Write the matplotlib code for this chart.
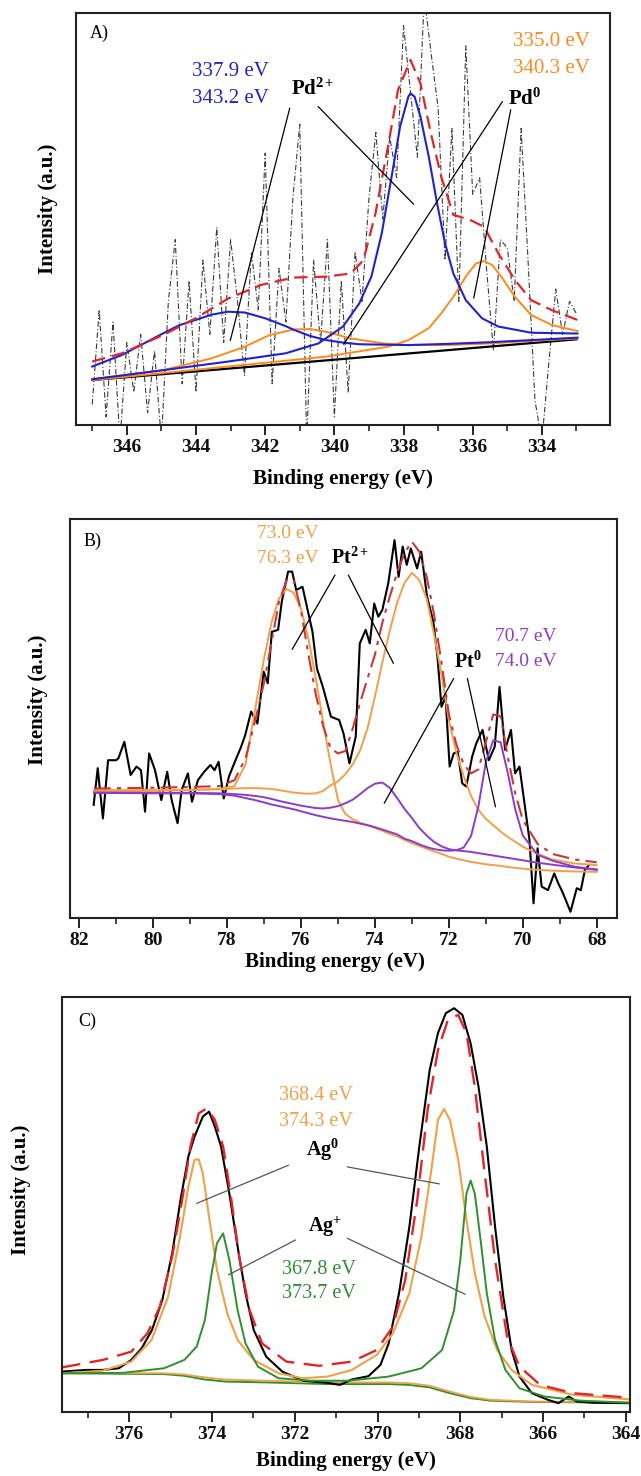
import matplotlib
matplotlib.use("Agg")
import matplotlib.pyplot as plt
from matplotlib.ticker import MultipleLocator

plt.rcParams["font.family"] = ["Liberation Serif", "DejaVu Serif"]
plt.rcParams["mathtext.fontset"] = "custom"
plt.rcParams["mathtext.rm"] = "Liberation Serif"
plt.rcParams["mathtext.bf"] = "Liberation Serif:bold"
plt.rcParams["mathtext.it"] = "Liberation Serif:italic"

# ---------------- panel A: Pd 3d ----------------
A_RAW_E = [347.0, 346.8, 346.6, 346.4, 346.2, 346.0, 345.8, 345.6, 345.4, 345.2,
           345.0, 344.8, 344.6, 344.4, 344.2, 344.0, 343.8, 343.6, 343.4, 343.2,
           343.0, 342.8, 342.6, 342.4, 342.2, 342.0, 341.8, 341.6, 341.4, 341.2,
           341.0, 340.8, 340.6, 340.4, 340.2, 340.0, 339.8, 339.6, 339.4, 339.2,
           339.0, 338.8, 338.6, 338.4, 338.2, 338.0, 337.8, 337.6, 337.4, 337.2,
           337.0, 336.8, 336.6, 336.4, 336.2, 336.0, 335.8, 335.6, 335.4, 335.2,
           335.0, 334.8, 334.6, 334.4, 334.2, 334.0, 333.8, 333.6, 333.4, 333.2, 333.0]
A_RAW_I = [5, 28, 2, 25, -4, 20, 8, 22, 3, 18,
           -4, 30, 45, 10, 35, 8, 40, 22, 48, 20,
           45, 30, 12, 42, 28, 66, 10, 38, 25, 55,
           73, -4, 40, 20, 45, 2, 35, 8, 42, 30,
           55, 71, 50, 70, 60, 97, 81, 65, 104, 90,
           77, 40, 72, 30, 92, 56, 60, 38, 18, 45,
           43, 30, 72, 40, 6, -4, 15, 33, 22, 30, 27]

A_BG_E = [347.0, 333.0]
A_BG_I = [10.9, 20.8]

A_BLUE1_E = [347.0, 344.96, 343.07, 341.41, 340.46, 339.75, 339.28, 338.93, 338.63, 338.33,
             338.10, 337.86, 337.80, 337.68, 337.51, 337.27, 337.03, 336.80, 336.56, 336.20,
             335.73, 335.26, 334.31, 332.97]
A_BLUE1_I = [11.1, 13.3, 15.4, 17.4, 19.8, 23.9, 29.5, 36.0, 46.5, 61.0,
             72.4, 79.7, 80.5, 79.7, 74.8, 65.1, 53.8, 44.1, 36.8, 30.3,
             25.9, 23.9, 22.4, 22.2]

A_BLUE2_E = [347.0, 346.14, 344.96, 344.49, 344.01, 343.54, 343.07, 342.59, 342.0, 341.41,
             341.17, 340.70, 340.23, 339.75, 339.28, 337.86, 336.68, 335.49, 334.31, 332.97]
A_BLUE2_I = [14.2, 17.0, 22.2, 24.2, 25.5, 26.8, 27.5, 27.3, 25.9, 24.0,
             23.1, 21.6, 20.6, 20.0, 19.6, 19.4, 19.7, 20.1, 20.6, 21.2]

A_ORANGE1_E = [347.0, 342.59, 340.23, 338.45, 337.86, 337.27, 336.91, 336.56, 336.20, 335.91,
               335.67, 335.43, 335.14, 334.78, 334.31, 333.72, 332.97]
A_ORANGE1_I = [10.9, 14.6, 16.6, 19.0, 20.6, 23.5, 27.1, 31.1, 36.0, 39.2,
               39.8, 38.8, 35.6, 31.1, 26.7, 24.3, 22.8]

A_ORANGE2_E = [347.0, 344.96, 343.54, 342.59, 341.88, 341.17, 340.70, 340.23, 339.52, 338.57,
               337.86, 336.68, 335.49, 334.31, 332.97]
A_ORANGE2_I = [11.1, 13.3, 16.2, 19.0, 21.8, 23.2, 23.3, 22.6, 21.0, 19.8,
               19.4, 19.4, 19.8, 20.4, 21.0]

A_SUM_E = [347.0, 346.14, 344.96, 344.01, 343.07, 342.12, 341.17, 340.23, 339.52, 339.16,
           338.81, 338.45, 338.16, 337.80, 337.51, 337.21, 336.91, 336.56, 336.08, 335.67,
           335.26, 334.78, 334.31, 333.72, 332.97]
A_SUM_I = [15.4, 17.4, 21.8, 25.9, 30.7, 34.0, 35.8, 36.0, 36.8, 40.0,
           51.4, 67.6, 81.3, 88.6, 82.9, 70.8, 60.3, 51.0, 49.8, 48.1,
           41.7, 35.2, 30.3, 27.9, 25.5]

A_PEAK_TEXT = ["337.9 eV", "343.2 eV", "335.0 eV", "340.3 eV"]

# ---------------- panel B: Pt 4f ----------------
B_RAW_E = [81.61, 81.50, 81.36, 81.22, 81.00, 80.94, 80.78, 80.61, 80.45, 80.33,
           80.22, 80.11, 79.95, 79.78, 79.62, 79.50, 79.34, 79.23, 79.06, 78.95,
           78.79, 78.62, 78.45, 78.34, 78.23, 78.09, 77.95, 77.79, 77.62, 77.51,
           77.35, 77.18, 77.01, 76.90, 76.79, 76.62, 76.52, 76.35, 76.24, 76.13,
           75.96, 75.80, 75.69, 75.57, 75.41, 75.19, 74.97, 74.85, 74.69, 74.52,
           74.41, 74.25, 74.14, 74.02, 73.91, 73.80, 73.64, 73.47, 73.36, 73.25,
           73.14, 73.03, 72.86, 72.75, 72.59, 72.42, 72.31, 72.20, 72.09, 71.98,
           71.87, 71.76, 71.64, 71.53, 71.37, 71.26, 71.09, 70.92, 70.76, 70.63,
           70.48, 70.32, 70.21, 70.09, 69.93, 69.82, 69.71, 69.60, 69.49, 69.32,
           69.15, 69.04, 68.93, 68.71, 68.54, 68.43, 68.32, 68.21]
B_RAW_I = [28.3, 37.5, 24.9, 39.5, 39.5, 40.0, 44.1, 35.8, 37.9, 37.0,
           26.6, 41.2, 37.0, 29.5, 36.6, 29.5, 23.7, 32.0, 36.2, 29.1,
           34.5, 36.6, 38.3, 37.0, 39.1, 29.9, 35.4, 39.1, 42.9, 45.8,
           51.7, 48.7, 61.7, 58.8, 71.7, 72.2, 79.3, 86.8, 86.8, 82.2,
           83.0, 76.3, 71.7, 62.5, 57.9, 50.4, 49.6, 46.2, 38.7, 45.4,
           68.8, 72.2, 68.8, 78.8, 75.5, 77.2, 83.9, 94.7, 85.5, 93.1,
           88.5, 92.6, 87.6, 91.8, 80.5, 74.2, 65.5, 52.9, 55.4, 37.9,
           41.2, 41.6, 33.7, 32.9, 40.4, 43.7, 47.1, 39.5, 42.9, 57.9,
           42.1, 47.1, 36.2, 37.9, 27.0, 19.5, 3.6, 17.4, 7.8, 6.9,
           11.1, 8.6, 6.5, 1.5, 7.4, 6.9, 12.0, 13.2]

B_E = [81.6, 80.0, 79.0, 78.2, 77.8, 77.5, 77.2, 77.0, 76.8, 76.6,
       76.4, 76.2, 76.0, 75.8, 75.6, 75.4, 75.2, 75.0, 74.8, 74.6,
       74.4, 74.2, 74.0, 73.8, 73.6, 73.4, 73.2, 73.0, 72.8, 72.6,
       72.4, 72.2, 72.0, 71.8, 71.6, 71.4, 71.2, 71.0, 70.8, 70.6,
       70.4, 70.2, 70.0, 69.6, 69.2, 68.6, 68.0]
B_ORANGE1 = [32.0, 32.0, 32.1, 32.3, 33.0, 38.5, 54.5, 65.0, 74.0, 80.0,
             82.5, 81.5, 77.5, 70.0, 60.0, 49.0, 38.5, 29.5, 26.0, 24.7,
             23.8, 23.2, 22.5, 21.8, 21.0, 20.4, 19.5, 18.7, 18.0, 17.3,
             16.6, 16.0, 15.3, 14.8, 14.4, 14.0, 13.7, 13.4, 13.2, 13.0,
             12.7, 12.5, 12.3, 12.0, 11.8, 11.6, 11.5]
B_ORANGE2 = [31.6, 31.8, 32.0, 32.2, 32.4, 32.5, 32.5, 32.4, 32.3, 32.0,
             31.7, 31.4, 31.2, 31.1, 31.2, 31.8, 33.2, 34.2, 36.0, 38.5,
             42.0, 47.5, 55.5, 64.0, 72.0, 79.0, 84.0, 86.5, 84.7, 80.0,
             71.0, 61.0, 49.5, 41.5, 35.5, 30.5, 27.0, 24.8, 23.2, 21.6,
             20.2, 19.0, 17.8, 16.0, 14.6, 13.6, 13.2]
B_PURPLE1 = [31.4, 31.3, 31.3, 31.2, 31.0, 30.8, 30.5, 30.2, 29.8, 29.3,
             28.9, 28.5, 28.1, 27.8, 27.5, 27.4, 27.6, 28.0, 28.7, 29.6,
             31.0, 32.5, 33.6, 33.9, 32.6, 30.0, 27.3, 25.0, 22.5, 20.6,
             19.0, 17.9, 17.2, 16.9, 16.7, 16.5, 16.2, 15.9, 15.6, 15.3,
             15.0, 14.7, 14.4, 13.8, 13.3, 12.6, 12.0]
B_PURPLE2 = [31.3, 31.2, 31.2, 31.0, 30.6, 30.0, 29.4, 28.9, 28.4, 28.0,
             27.6, 27.2, 26.7, 26.2, 25.7, 25.3, 24.9, 24.6, 24.3, 24.0,
             23.6, 23.2, 22.7, 22.1, 21.5, 20.9, 19.8, 19.2, 18.4, 17.7,
             17.2, 16.9, 16.8, 16.9, 17.6, 20.5, 28.0, 39.0, 44.5, 44.0,
             36.0, 27.0, 20.6, 15.8, 14.3, 12.8, 12.1]
B_SUM = [32.4, 32.6, 32.8, 33.0, 34.5, 40.0, 51.0, 59.0, 69.0, 79.0,
         84.5, 84.8, 77.0, 66.0, 56.0, 48.0, 42.5, 41.2, 41.8, 47.5,
         54.0, 60.0, 66.0, 74.0, 80.5, 86.5, 91.5, 94.3, 91.8, 85.5,
         76.0, 64.0, 51.0, 43.5, 38.5, 36.2, 37.2, 44.0, 51.0, 50.5,
         40.0, 31.0, 24.5, 18.5, 16.0, 14.6, 13.9]

B_PEAK_TEXT = ["73.0 eV", "76.3 eV", "70.7 eV", "74.0 eV"]

# ---------------- panel C: Ag 3d ----------------
C_RAW_E = [377.63, 377.04, 376.64, 376.25, 375.95, 375.70, 375.45, 375.20, 374.96, 374.76,
           374.57, 374.42, 374.22, 374.07, 373.93, 373.78, 373.58, 373.38, 373.19, 372.99,
           372.69, 372.30, 371.80, 371.21, 370.91, 370.62, 370.22, 369.93, 369.73, 369.48,
           369.23, 368.99, 368.74, 368.54, 368.35, 368.15, 367.95, 367.75, 367.56, 367.36,
           367.16, 366.96, 366.76, 366.57, 366.27, 365.88, 365.63, 365.38, 365.19, 364.79, 363.90]
C_RAW_I = [9.8, 10.2, 10.2, 10.6, 12.6, 15.4, 19.8, 27.0, 38.3, 51.1,
           61.6, 66.4, 71.2, 72.4, 68.8, 64.0, 52.7, 39.9, 28.7, 19.8,
           13.4, 9.8, 7.6, 7.1, 6.6, 7.9, 8.7, 11.4, 16.6, 28.7,
           44.7, 64.0, 82.4, 91.3, 96.1, 97.3, 95.7, 88.8, 78.4, 64.0,
           44.7, 27.8, 15.0, 8.6, 4.6, 3.0, 2.2, 3.8, 2.6, 2.3, 2.2]

C_ORANGE_E = [377.63, 376.64, 375.95, 375.46, 375.06, 374.77, 374.57, 374.42, 374.32, 374.22,
              374.07, 373.88, 373.63, 373.38, 372.99, 372.39, 371.80, 371.21, 370.62, 370.02,
              369.63, 369.23, 368.94, 368.69, 368.54, 368.39, 368.25, 368.05, 367.85, 367.65,
              367.41, 367.11, 366.76, 366.27, 365.28, 363.90]
C_ORANGE_I = [9.4, 10.0, 12.2, 17.4, 27.8, 42.3, 54.3, 60.8, 60.9, 57.5,
              47.1, 34.3, 23.8, 17.4, 12.6, 9.4, 8.2, 8.6, 10.2, 13.8,
              19.0, 28.7, 42.3, 59.1, 70.4, 73.0, 70.4, 60.8, 46.3, 33.5,
              23.0, 15.0, 10.2, 6.6, 4.2, 3.1]

C_GREEN_E = [377.63, 376.15, 375.16, 374.67, 374.37, 374.17, 374.02, 373.88, 373.73, 373.58,
             373.38, 373.19, 372.89, 372.39, 371.60, 370.72, 369.73, 368.94, 368.44, 368.15,
             368.00, 367.85, 367.75, 367.65, 367.50, 367.36, 367.16, 366.91, 366.57, 365.97,
             365.09, 363.90]
C_GREEN_I = [9.4, 9.5, 10.6, 12.6, 15.8, 22.2, 32.7, 40.7, 43.1, 36.7,
             24.6, 16.6, 11.0, 8.2, 7.6, 7.6, 8.6, 10.6, 15.0, 24.6,
             36.7, 52.7, 55.8, 52.7, 40.7, 28.7, 17.4, 10.2, 5.8, 3.8,
             2.8, 2.3]

C_SUM_E = [377.63, 376.64, 375.95, 375.56, 375.26, 374.96, 374.72, 374.52, 374.32, 374.12,
           373.93, 373.73, 373.53, 373.33, 373.09, 372.79, 372.20, 371.41, 370.62, 370.02,
           369.63, 369.33, 369.04, 368.79, 368.54, 368.30, 368.05, 367.85, 367.65, 367.41,
           367.16, 366.87, 366.57, 366.07, 365.28, 363.90]
C_SUM_I = [10.8, 12.6, 14.6, 19.0, 25.4, 37.5, 51.1, 64.0, 72.0, 73.2,
           70.4, 64.0, 51.1, 36.7, 24.6, 16.6, 12.2, 11.2, 12.2, 15.0,
           20.6, 31.9, 51.1, 72.8, 87.2, 94.5, 95.7, 91.3, 78.4, 57.5,
           36.7, 18.2, 11.0, 6.6, 4.6, 3.5]

C_BG_E = [377.63, 375.16, 374.67, 374.17, 373.68, 372.69, 371.21, 369.73, 369.23, 368.74,
          368.25, 367.75, 367.26, 366.27, 363.90]
C_BG_GREEN = [9.4, 9.2, 8.8, 7.9, 7.4, 7.2, 6.8, 6.8, 6.6, 6.0, 4.6, 3.4, 2.8, 2.5, 2.3]
C_BG_ORANGE = [9.5, 9.4, 9.1, 8.4, 7.9, 7.6, 7.2, 7.2, 7.0, 6.4, 5.0, 3.7, 3.0, 2.6, 2.4]

C_PEAK_TEXT = ["368.4 eV", "374.3 eV", "367.8 eV", "373.7 eV"]

# colours
BLUE = "#2222cc"
ORANGE_A = "#ff8a1c"
ORANGE = "#f0a048"
PURPLE = "#8d3cc8"
GREEN = "#2f8f2f"
RED = "#e0262a"
DARKRED = "#c8383a"

W, H = 641, 1476
fig = plt.figure(figsize=(W / 100, H / 100), dpi=100)


def add_panel(left, top, right, bottom):
    return fig.add_axes([left / W, 1 - bottom / H, (right - left) / W, (bottom - top) / H])


def style(ax, xlim, ylab_x, ylab_y, xlab_x, xlab_y, tag, tag_x, tag_y):
    ax.set_xlim(*xlim)
    ax.set_ylim(0, 100)
    ax.set_yticks([])
    ax.xaxis.set_major_locator(MultipleLocator(2))
    ax.xaxis.set_minor_locator(MultipleLocator(1))
    ax.tick_params(axis="x", which="major", direction="out", length=7, width=1.3,
                   labelsize=14, pad=3, colors="#111")
    ax.tick_params(axis="x", which="minor", direction="out", length=4, width=1.1, colors="#111")
    for lab in ax.get_xticklabels():
        lab.set_fontweight("bold")
    for s in ax.spines.values():
        s.set_linewidth(1.5)
        s.set_color("#222")
    ax.text(ylab_x, ylab_y, "Intensity (a.u.)", transform=ax.transAxes, rotation=90,
            ha="center", va="center", fontsize=15, fontweight="bold")
    ax.text(xlab_x, xlab_y, "Binding energy (eV)", transform=ax.transAxes,
            ha="center", va="center", fontsize=15, fontweight="bold")
    ax.text(tag_x, tag_y, tag, transform=ax.transAxes, ha="left", va="center", fontsize=13)


def leader(ax, x0, y0, x1, y1, color="k"):
    ax.annotate("", xy=(x1, y1), xytext=(x0, y0),
                arrowprops=dict(arrowstyle="-", color=color, lw=0.9, shrinkA=0, shrinkB=0))


# ---- A ----
ax = add_panel(76, 13, 610, 425)
ax.plot(A_RAW_E, A_RAW_I, color="#3a3a3a", lw=0.8, ls=(0, (5, 2, 1, 2)))
ax.plot(A_BG_E, A_BG_I, color="k", lw=1.6)
ax.plot(A_ORANGE2_E, A_ORANGE2_I, color=ORANGE_A, lw=1.4)
ax.plot(A_ORANGE1_E, A_ORANGE1_I, color=ORANGE_A, lw=1.4)
ax.plot(A_BLUE2_E, A_BLUE2_I, color=BLUE, lw=1.5)
ax.plot(A_BLUE1_E, A_BLUE1_I, color=BLUE, lw=1.5)
ax.plot(A_SUM_E, A_SUM_I, color=RED, lw=1.6, ls=(0, (6, 3)))
style(ax, (347.47, 332.03), -0.052, 0.524, 0.5, -0.132, "A)", 0.026, 0.951)
ax.text(344.13, 85.9, A_PEAK_TEXT[0], color=BLUE, fontsize=15, ha="left", va="center")
ax.text(344.13, 79.3, A_PEAK_TEXT[1], color=BLUE, fontsize=15, ha="left", va="center")
ax.text(334.83, 93.1, A_PEAK_TEXT[2], color=ORANGE_A, fontsize=15, ha="left", va="center")
ax.text(334.83, 86.5, A_PEAK_TEXT[3], color=ORANGE_A, fontsize=15, ha="left", va="center")
ax.text(341.24, 81.6, r"Pd$^{\mathbf{2+}}$", fontsize=15, fontweight="bold", ha="left", va="center")
ax.text(334.99, 79.1, r"Pd$^{\mathbf{0}}$", fontsize=15, fontweight="bold", ha="left", va="center")
leader(ax, 341.29, 76.9, 343.01, 20.5)
leader(ax, 340.47, 77.3, 337.71, 53.6)
leader(ax, 335.14, 78.5, 339.73, 19.6)
leader(ax, 334.90, 76.5, 335.97, 30.8)

# ---- B ----
ax = add_panel(70, 519, 616.7, 917.7)
ax.plot(B_RAW_E, B_RAW_I, color="k", lw=1.5)
ax.plot(B_E, B_ORANGE1, color=ORANGE, lw=1.4)
ax.plot(B_E, B_ORANGE2, color=ORANGE, lw=1.4)
ax.plot(B_E, B_PURPLE1, color=PURPLE, lw=1.4)
ax.plot(B_E, B_PURPLE2, color=PURPLE, lw=1.4)
ax.plot(B_E, B_SUM, color=DARKRED, lw=1.5, ls=(0, (8, 3, 2, 3)))
style(ax, (82.25, 67.46), -0.058, 0.546, 0.485, -0.112, "B)", 0.025, 0.943)
ax.text(77.18, 96.4, B_PEAK_TEXT[0], color=ORANGE, fontsize=14, ha="left", va="center")
ax.text(77.18, 90.1, B_PEAK_TEXT[1], color=ORANGE, fontsize=14, ha="left", va="center")
ax.text(70.76, 70.5, B_PEAK_TEXT[2], color=PURPLE, fontsize=14, ha="left", va="center")
ax.text(70.76, 64.2, B_PEAK_TEXT[3], color=PURPLE, fontsize=14, ha="left", va="center")
ax.text(75.19, 90.1, r"Pt$^{\mathbf{2+}}$", fontsize=14.5, fontweight="bold", ha="left", va="center")
ax.text(71.87, 64.2, r"Pt$^{\mathbf{0}}$", fontsize=14.5, fontweight="bold", ha="left", va="center")
leader(ax, 75.08, 85.95, 76.24, 67.3)
leader(ax, 74.72, 85.95, 73.50, 63.8)
leader(ax, 71.87, 60.0, 73.75, 28.7)
leader(ax, 71.50, 60.0, 70.74, 27.8)

# ---- C ----
ax = add_panel(61.7, 997, 630, 1412.3)
ax.plot(C_BG_E, C_BG_GREEN, color=GREEN, lw=1.4)
ax.plot(C_BG_E, C_BG_ORANGE, color=ORANGE, lw=1.3)
ax.plot(C_RAW_E, C_RAW_I, color="k", lw=1.5)
ax.plot(C_ORANGE_E, C_ORANGE_I, color=ORANGE, lw=1.5)
ax.plot(C_GREEN_E, C_GREEN_I, color=GREEN, lw=1.4)
ax.plot(C_SUM_E, C_SUM_I, color=RED, lw=1.7, ls=(0, (8, 4)))
style(ax, (377.63, 363.9), -0.072, 0.535, 0.501, -0.118, "C)", 0.029, 0.9405)
ax.text(372.39, 76.2, C_PEAK_TEXT[0], color=ORANGE, fontsize=14.5, ha="left", va="center")
ax.text(372.39, 70.0, C_PEAK_TEXT[1], color=ORANGE, fontsize=14.5, ha="left", va="center")
ax.text(372.31, 34.3, C_PEAK_TEXT[2], color=GREEN, fontsize=14.5, ha="left", va="center")
ax.text(372.31, 28.7, C_PEAK_TEXT[3], color=GREEN, fontsize=14.5, ha="left", va="center")
ax.text(371.72, 63.2, r"Ag$^{\mathbf{0}}$", fontsize=14.5, fontweight="bold", ha="left", va="center")
ax.text(371.68, 44.7, r"Ag$^{\mathbf{+}}$", fontsize=14.5, fontweight="bold", ha="left", va="center")
leader(ax, 372.15, 59.5, 374.37, 50.3, "#555")
leader(ax, 370.73, 59.1, 368.51, 55.0, "#555")
leader(ax, 371.98, 41.5, 373.60, 33.1, "#555")
leader(ax, 370.73, 41.9, 367.88, 28.4, "#555")

fig.savefig("out.png", dpi=100)
